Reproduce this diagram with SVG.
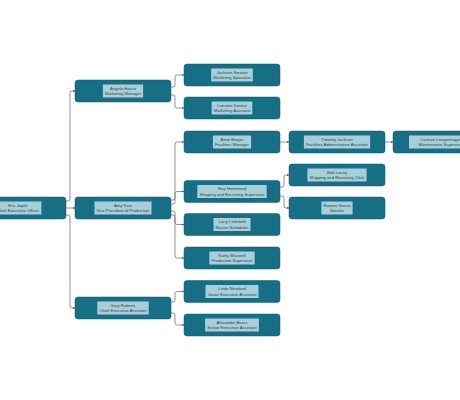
<svg xmlns="http://www.w3.org/2000/svg" width="460" height="400" viewBox="0 0 460 400">
<style>
.node{fill:#176f86;stroke:#0f5a6c;stroke-width:0.5}
.lbl{fill:#a8cfd9}
.t{font-family:"Liberation Sans",Arial,sans-serif;font-size:4.2px;fill:#2b3f48;text-anchor:middle}
.link{fill:none;stroke:#666;stroke-width:0.7}
</style>
<defs>
<marker id="arr" viewBox="0 0 4 4" refX="4" refY="2" markerWidth="2.5" markerHeight="2.5" markerUnits="userSpaceOnUse" orient="auto">
<path d="M0,0 L4,2 L0,4 z" fill="#555"/>
</marker>
</defs>
<rect width="460" height="400" fill="#fff"/>
<g id="connectors">
<path class="link" marker-end="url(#arr)" d="M66,201 H68 Q70,201 70,199 V93 Q70,91 72,91 H75"/>
<path class="link" marker-end="url(#arr)" d="M66,208 H75"/>
<path class="link" marker-end="url(#arr)" d="M66,215 H68 Q70,215 70,217 V306 Q70,308 72,308 H75"/>
<path class="link" marker-end="url(#arr)" d="M171,87 H173 Q175,87 175,85 V77 Q175,75 177,75 H184"/>
<path class="link" marker-end="url(#arr)" d="M171,95 H173 Q175,95 175,97 V106 Q175,108 177,108 H184"/>
<path class="link" marker-end="url(#arr)" d="M171,200 H173 Q175,200 175,198 V144 Q175,142 177,142 H184"/>
<path class="link" marker-end="url(#arr)" d="M171,204 H173 Q175,204 175,202 V193.5 Q175,191.5 177,191.5 H184"/>
<path class="link" marker-end="url(#arr)" d="M171,211 H173 Q175,211 175,213 V222.5 Q175,224.5 177,224.5 H184"/>
<path class="link" marker-end="url(#arr)" d="M171,215 H173 Q175,215 175,217 V256 Q175,258 177,258 H184"/>
<path class="link" marker-end="url(#arr)" d="M171,302 H173 Q175,302 175,300 V293.5 Q175,291.5 177,291.5 H184"/>
<path class="link" marker-end="url(#arr)" d="M171,313 H173 Q175,313 175,315 V323 Q175,325 177,325 H184"/>
<path class="link" marker-end="url(#arr)" d="M280,187 H282 Q284,187 284,185 V177 Q284,175 286,175 H289"/>
<path class="link" marker-end="url(#arr)" d="M280,196 H282 Q284,196 284,198 V206 Q284,208 286,208 H289"/>
<path class="link" marker-end="url(#arr)" d="M280,142 H289"/>
<path class="link" marker-end="url(#arr)" d="M385,142 H393"/>
</g>
<g id="eric">
<rect class="node" x="-30" y="197" width="96" height="22" rx="3"/>
<rect class="lbl" x="-5.4" y="201.5" width="46.8" height="13"/>
<text class="t"><tspan x="18" y="206.9">Eric Joplin</tspan><tspan x="18" y="212.1">Chief Executive Officer</tspan></text>
</g>
<g id="angela">
<rect class="node" x="75" y="80" width="96" height="22" rx="3"/>
<rect class="lbl" x="102.9" y="84.5" width="40.2" height="13"/>
<text class="t"><tspan x="123" y="89.9">Angela Hosse</tspan><tspan x="123" y="95.1">Marketing Manager</tspan></text>
</g>
<g id="amy">
<rect class="node" x="75" y="197" width="96" height="22" rx="3"/>
<rect class="lbl" x="94.5" y="201.5" width="57" height="13"/>
<text class="t"><tspan x="123" y="206.9">Amy Kain</tspan><tspan x="123" y="212.1">Vice President of Production</tspan></text>
</g>
<g id="gary">
<rect class="node" x="75" y="297" width="96" height="22" rx="3"/>
<rect class="lbl" x="97.3" y="301.5" width="51.4" height="13"/>
<text class="t"><tspan x="123" y="306.9">Gary Roberts</tspan><tspan x="123" y="312.1">Chief Executive Assistant</tspan></text>
</g>
<g id="joshane">
<rect class="node" x="184" y="64" width="96" height="22" rx="3"/>
<rect class="lbl" x="211.2" y="68.5" width="41.6" height="13"/>
<text class="t"><tspan x="232" y="73.9">Joshane Stewart</tspan><tspan x="232" y="79.1">Marketing Specialist</tspan></text>
</g>
<g id="lorraine">
<rect class="node" x="184" y="97" width="96" height="22" rx="3"/>
<rect class="lbl" x="211.7" y="101.5" width="40.6" height="13"/>
<text class="t"><tspan x="232" y="106.9">Lorraine Dealve</tspan><tspan x="232" y="112.1">Marketing Assistant</tspan></text>
</g>
<g id="amie">
<rect class="node" x="184" y="131" width="96" height="22" rx="3"/>
<rect class="lbl" x="212.9" y="135.5" width="38.2" height="13"/>
<text class="t"><tspan x="232" y="140.9">Amie Binger</tspan><tspan x="232" y="146.1">Facilities Manager</tspan></text>
</g>
<g id="ray">
<rect class="node" x="184" y="180.5" width="96" height="22" rx="3"/>
<rect class="lbl" x="197.3" y="185" width="69.4" height="13"/>
<text class="t"><tspan x="232" y="190.4">Ray Hammond</tspan><tspan x="232" y="195.6">Shipping and Receiving Supervisor</tspan></text>
</g>
<g id="larry">
<rect class="node" x="184" y="213.5" width="96" height="22" rx="3"/>
<rect class="lbl" x="213.5" y="218" width="37" height="13"/>
<text class="t"><tspan x="232" y="223.4">Larry Littlefield</tspan><tspan x="232" y="228.6">Master Scheduler</tspan></text>
</g>
<g id="kathy">
<rect class="node" x="184" y="247" width="96" height="22" rx="3"/>
<rect class="lbl" x="209.3" y="251.5" width="45.4" height="13"/>
<text class="t"><tspan x="232" y="256.9">Kathy Maxwell</tspan><tspan x="232" y="262.1">Production Supervisor</tspan></text>
</g>
<g id="linda">
<rect class="node" x="184" y="280.5" width="96" height="22" rx="3"/>
<rect class="lbl" x="205.5" y="285" width="53" height="13"/>
<text class="t"><tspan x="232" y="290.4">Linda Newland</tspan><tspan x="232" y="295.6">Junior Executive Assistant</tspan></text>
</g>
<g id="alexander">
<rect class="node" x="184" y="314" width="96" height="22" rx="3"/>
<rect class="lbl" x="205.1" y="318.5" width="53.8" height="13"/>
<text class="t"><tspan x="232" y="323.9">Alexander Burns</tspan><tspan x="232" y="329.1">Senior Executive Assistant</tspan></text>
</g>
<g id="timothy">
<rect class="node" x="289" y="131" width="96" height="22" rx="3"/>
<rect class="lbl" x="303.9" y="135.5" width="66.2" height="13"/>
<text class="t"><tspan x="337" y="140.9">Timothy Jackson</tspan><tspan x="337" y="146.1">Facilities Administrative Assistant</tspan></text>
</g>
<g id="bob">
<rect class="node" x="289" y="164" width="96" height="22" rx="3"/>
<rect class="lbl" x="307.4" y="168.5" width="59.2" height="13"/>
<text class="t"><tspan x="337" y="173.9">Bob Lacey</tspan><tspan x="337" y="179.1">Shipping and Receiving Clerk</tspan></text>
</g>
<g id="ramon">
<rect class="node" x="289" y="197" width="96" height="22" rx="3"/>
<rect class="lbl" x="321.4" y="201.5" width="31.2" height="13"/>
<text class="t"><tspan x="337" y="206.9">Ramon Garcia</tspan><tspan x="337" y="212.1">Stocker</tspan></text>
</g>
<g id="carmen">
<rect class="node" x="393" y="131" width="96" height="22" rx="3"/>
<rect class="lbl" x="409" y="135.5" width="64" height="13"/>
<text class="t"><tspan x="441" y="140.9">Carmen Langenhagen</tspan><tspan x="441" y="146.1">Maintenance Supervisor</tspan></text>
</g>
</svg>
